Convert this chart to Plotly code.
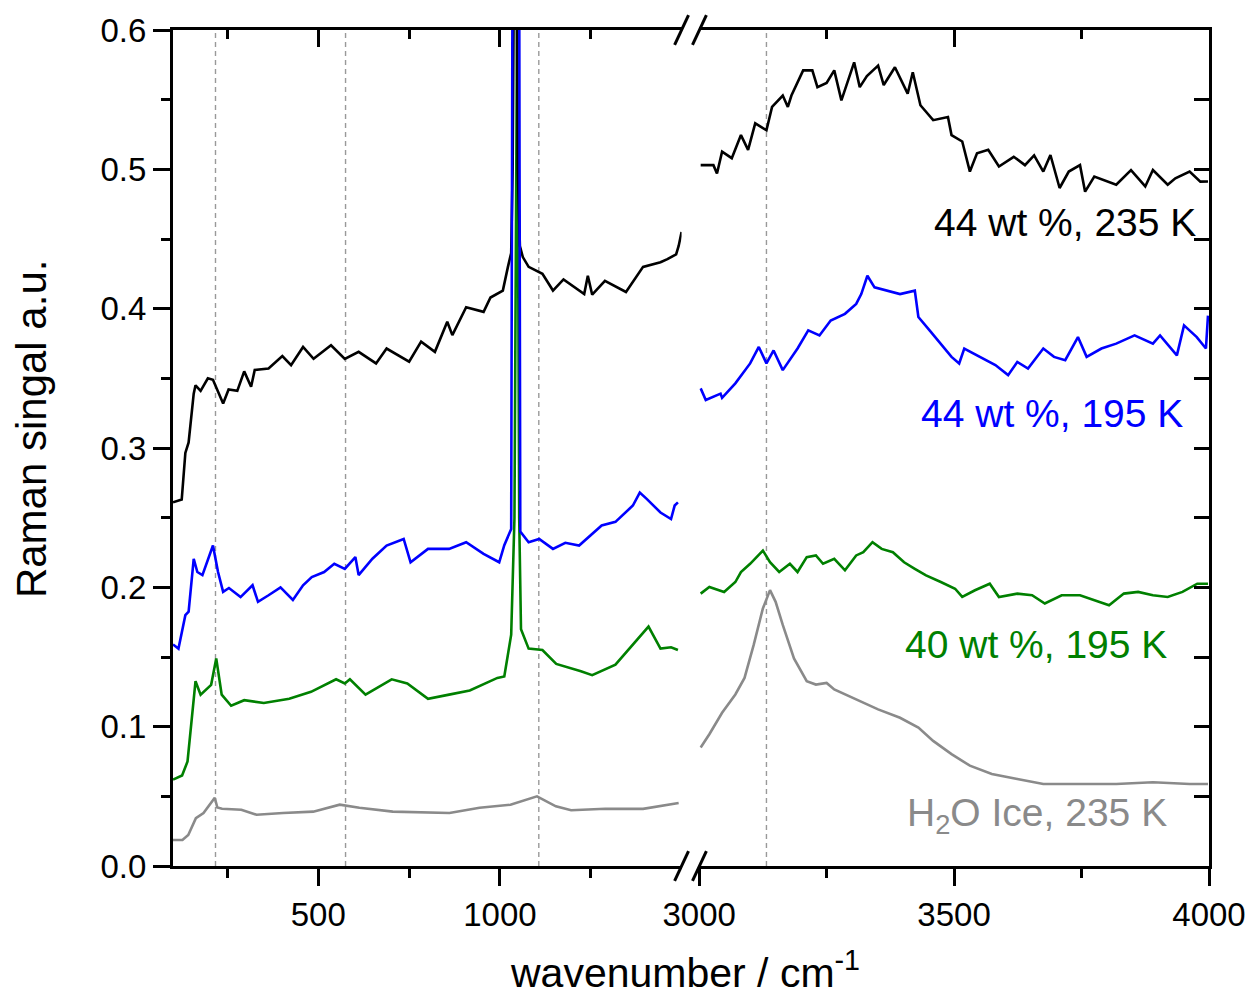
import plotly.graph_objects as go

# ---------------- data ----------------
# left panel (100-1500 cm-1)
black_l_x = [100, 124, 134, 143, 157, 162, 176, 196, 210, 238, 253, 277, 296, 315, 325, 363, 401, 425, 458, 487,
             535, 573, 611, 659, 688, 750, 783, 821, 855, 869, 907, 955, 974, 1008, 1022, 1031, 1035, 1038, 1042,
             1046, 1049, 1055, 1063, 1079, 1117, 1146, 1175, 1232, 1242, 1254, 1289, 1347, 1394, 1442, 1461, 1485,
             1492, 1500]
black_l_y = [.261, .263, .2965, .304, .339, .345, .341, .350, .349, .332, .342, .341, .355, .344, .356, .357, .366,
             .3595, .3725, .364, .3737, .364, .369, .3607, .3714, .362, .3763, .369, .3906, .381, .401, .3977, .408,
             .413, .43, .44, .50, .65, .80, .65, .50, .445, .437, .43, .425, .413, .421, .4105, .4236, .41, .42, .412,
             .43, .4333, .4355, .439, .445, .455]

blue_l_x = [100, 115, 134, 143, 157, 167, 181, 196, 210, 224, 238, 254, 286, 319, 334, 363, 396, 430, 458, 482, 516,
            544, 573, 602, 611, 649, 688, 735, 754, 802, 860, 907, 955, 998, 1012, 1031, 1034, 1036, 1045, 1052, 1054,
            1056, 1079, 1108, 1146, 1180, 1218, 1280, 1318, 1366, 1385, 1404, 1442, 1471, 1481, 1490]
blue_l_y = [.159, .156, .180, .1825, .2205, .211, .2088, .2205, .230, .211, .1967, .1995, .193, .2015, .1896, .1943,
            .20, .191, .2015, .2074, .211, .2169, .2133, .2217, .2088, .2205, .230, .2347, .218, .2276, .2276, .2324,
            .224, .218, .2302, .2418, .50, .80, .95, .80, .50, .24, .2324, .2347, .2276, .232, .23, .2444, .247,
            .2587, .268, .2635, .2537, .249, .2587, .261]

green_l_x = [100, 125, 140, 150, 162, 176, 205, 219, 234, 260, 296, 350, 420, 480, 549, 573, 587, 630, 702, 745,
             802, 860, 917, 993, 1012, 1031, 1040, 1044, 1047, 1050, 1053, 1058, 1079, 1117, 1155, 1223, 1254, 1318,
             1366, 1409, 1442, 1471, 1490]
green_l_y = [.062, .065, .075, .10, .1326, .123, .130, .149, .123, .115, .119, .117, .12, .125, .134, .131, .134,
             .123, .134, .131, .12, .123, .126, .135, .136, .166, .25, .45, .60, .45, .25, .17, .156, .155, .145,
             .1397, .137, .1445, .159, .1718, .156, .157, .155]

gray_l_x = [100, 126, 142, 163, 184, 205, 215, 222, 235, 288, 330, 403, 486, 559, 613, 705, 861, 944, 1029, 1102,
            1154, 1196, 1290, 1394, 1492]
gray_l_y = [.0187, .0187, .0223, .0343, .038, .046, .049, .042, .0411, .0404, .0368, .038, .039, .044, .0418, .039,
            .038, .0418, .044, .050, .0428, .040, .0411, .041, .0452]

# right panel (3000-4000 cm-1)
black_r_x = [3003, 3028, 3035, 3045, 3064, 3082, 3096, 3110, 3132, 3143, 3164, 3174, 3181, 3204, 3222, 3232, 3250,
             3265, 3279, 3304, 3315, 3329, 3351, 3362, 3384, 3409, 3419, 3434, 3459, 3488, 3495, 3516, 3531, 3545,
             3567, 3588, 3617, 3639, 3657, 3675, 3689, 3707, 3725, 3747, 3757, 3775, 3818, 3847, 3875, 3890, 3919,
             3934, 3962, 3983, 3998]
black_r_y = [.503, .503, .497, .5127, .508, .5246, .514, .533, .528, .5448, .553, .5448, .553, .571, .571, .559,
             .562, .571, .5495, .5768, .559, .567, .5745, .5605, .5733, .5543, .5697, .546, .5353, .5376, .5246,
             .520, .4984, .5115, .514, .502, .509, .503, .510, .4984, .5103, .4866, .4984, .503, .484, .4948, .489,
             .4995, .4877, .4995, .489, .4936, .4984, .4912, .4913]

blue_r_x = [3003, 3013, 3042, 3045, 3071, 3100, 3117, 3132, 3146, 3164, 3193, 3214, 3236, 3258, 3286, 3308, 3318,
            3330, 3344, 3369, 3394, 3423, 3430, 3452, 3474, 3495, 3510, 3520, 3581, 3606, 3624, 3645, 3675, 3696,
            3718, 3743, 3760, 3789, 3818, 3854, 3890, 3904, 3937, 3951, 3976, 3994, 3998]
blue_r_y = [.3428, .3345, .339, .336, .3464, .3607, .3725, .3607, .370, .3559, .3714, .3844, .3808, .3915, .3963,
            .4034, .4105, .4236, .4153, .4129, .4105, .4129, .394, .3844, .375, .3654, .3607, .3714, .3595, .3523,
            .3618, .357, .3714, .3654, .363, .3796, .3654, .3714, .3749, .3808, .3749, .3808, .3665, .388, .3796,
            .3714, .395]

green_r_x = [3003, 3020, 3049, 3071, 3082, 3100, 3125, 3139, 3157, 3178, 3193, 3211, 3229, 3243, 3265, 3286, 3308,
             3322, 3340, 3358, 3380, 3402, 3423, 3445, 3474, 3502, 3516, 3541, 3570, 3588, 3624, 3653, 3678, 3711,
             3747, 3775, 3804, 3833, 3861, 3890, 3919, 3948, 3977, 3998]
green_r_y = [.1955, .2003, .1967, .2038, .211, .2169, .2264, .218, .211, .2169, .211, .2217, .2229, .2169, .2205,
             .2122, .2229, .2252, .2324, .2276, .2252, .218, .2133, .2086, .2038, .199, .1931, .1979, .2026, .1931,
             .1955, .1943, .1884, .1943, .1943, .1907, .1872, .1955, .1967, .1943, .1931, .1967, .2026, .2026]

gray_r_x = [3003, 3020, 3045, 3071, 3089, 3107, 3125, 3139, 3150, 3164, 3186, 3211, 3229, 3250, 3265, 3308, 3351,
            3394, 3430, 3459, 3495, 3531, 3574, 3624, 3675, 3747, 3818, 3890, 3962, 3998]
gray_r_y = [.085, .0946, .110, .1231, .135, .1587, .1848, .198, .1896, .173, .149, .1326, .1302, .1314, .1267, .1195,
            .1124, .1064, .0993, .0898, .0803, .072, .066, .0625, .0589, .0589, .0589, .0601, .0589, .0589]

# reference peak positions (dashed lines)
ref_lines_left = [217, 575, 1107]
ref_lines_right = [3132]

# series labels
labels = ["44 wt %, 235 K", "44 wt %, 195 K", "40 wt %, 195 K", "H<sub>2</sub>O Ice, 235 K"]

# axis ticks
y_ticks = [0.0, 0.1, 0.2, 0.3, 0.4, 0.5, 0.6]
y_minor = [0.05, 0.15, 0.25, 0.35, 0.45, 0.55]
xl_ticks = [500, 1000]
xl_minor = [250, 750, 1250]
xr_ticks = [3000, 3500, 4000]
xr_minor = [3250, 3750]

# ---------------- styling ----------------
FONT = "Liberation Sans, Arial, sans-serif"
C_BLACK, C_BLUE, C_GREEN, C_GRAY = "#000000", "#0000ff", "#008000", "#8a8a8a"
W, H = 1258, 1000
ML, MR, MT, MB = 173, 42, 24, 134
PW, PH = W - ML - MR, H - MT - MB


def px(x):
    return (x - ML) / PW


def py(y):
    return (H - MB - y) / PH


LEFT_END = px(685)
RIGHT_START = px(702.7)

fig = go.Figure()

# (x, y, color, xaxis, yaxis) - traces spread over the overlay axes so that every axis is drawn
traces = [
    (gray_l_x, gray_l_y, C_GRAY, "x3", "y"),
    (green_l_x, green_l_y, C_GREEN, "x", "y"),
    (black_l_x, black_l_y, C_BLACK, "x", "y"),
    (blue_l_x, blue_l_y, C_BLUE, "x", "y"),
    (gray_r_x, gray_r_y, C_GRAY, "x4", "y"),
    (green_r_x, green_r_y, C_GREEN, "x2", "y2"),
    (black_r_x, black_r_y, C_BLACK, "x2", "y"),
    (blue_r_x, blue_r_y, C_BLUE, "x2", "y"),
]
for tx, ty, col, xa, ya in traces:
    fig.add_trace(go.Scatter(x=tx, y=ty, mode="lines", line=dict(color=col, width=2.6),
                             xaxis=xa, yaxis=ya, showlegend=False, hoverinfo="skip"))

TICKFONT = dict(family=FONT, size=33, color="black")
axis_common = dict(showline=True, linecolor="black", linewidth=3, showgrid=False, zeroline=False,
                   tickcolor="black", tickwidth=3, tickfont=TICKFONT)


def minor(vals, direction, length):
    return dict(tickmode="array", tickvals=vals, ticks=direction, ticklen=length,
                tickwidth=3, tickcolor="black", showgrid=False)


fig.update_layout(
    width=W, height=H, margin=dict(l=ML, r=MR, t=MT, b=MB),
    paper_bgcolor="white", plot_bgcolor="white", showlegend=False,
    font=dict(family=FONT, color="black"),
    xaxis=dict(domain=[0, LEFT_END], range=[100, 1500], anchor="y", ticks="outside", ticklen=17,
               tickmode="array", tickvals=xl_ticks, ticktext=[str(v) for v in xl_ticks],
               minor=minor(xl_minor, "outside", 9), **axis_common),
    xaxis2=dict(domain=[RIGHT_START, 1], range=[3000, 4000], anchor="y", ticks="outside", ticklen=17,
                tickmode="array", tickvals=xr_ticks, ticktext=[str(v) for v in xr_ticks],
                minor=minor(xr_minor, "outside", 9), **axis_common),
    xaxis3=dict(overlaying="x", side="top", anchor="y", range=[100, 1500], ticks="inside", ticklen=17,
                tickmode="array", tickvals=xl_ticks, showticklabels=False,
                minor=minor(xl_minor, "inside", 9), **axis_common),
    xaxis4=dict(overlaying="x2", side="top", anchor="y", range=[3000, 4000], ticks="inside", ticklen=17,
                tickmode="array", tickvals=xr_ticks, showticklabels=False,
                minor=minor(xr_minor, "inside", 9), **axis_common),
    yaxis=dict(domain=[0, 1], range=[0, 0.6], anchor="x", ticks="outside", ticklen=17,
               tickmode="array", tickvals=y_ticks, ticktext=[f"{v:.1f}" for v in y_ticks],
               minor=minor(y_minor, "outside", 9), **axis_common),
    yaxis2=dict(overlaying="y", side="right", anchor="x2", range=[0, 0.6], ticks="inside", ticklen=15,
                tickmode="array", tickvals=y_ticks, showticklabels=False,
                minor=minor(y_minor, "inside", 15), **axis_common),
)

# dashed reference lines
for v in ref_lines_left:
    fig.add_shape(type="line", xref="x", yref="paper", x0=v, x1=v, y0=0, y1=1, layer="below",
                  line=dict(color="#999999", width=1.4, dash="5px,4px"))
for v in ref_lines_right:
    fig.add_shape(type="line", xref="x2", yref="paper", x0=v, x1=v, y0=0, y1=1, layer="below",
                  line=dict(color="#999999", width=1.4, dash="5px,4px"))

# axis break marks
for cx in (685, 703):
    for cy in (H - MB, MT):
        fig.add_shape(type="line", xref="paper", yref="paper",
                      x0=px(cx - 7), y0=py(cy + 15), x1=px(cx + 7), y1=py(cy - 15),
                      line=dict(color="black", width=3))

# series labels
label_pos = [(3978, 0.462), (3952, 0.325), (3922, 0.159), (3922, 0.036)]
label_col = [C_BLACK, C_BLUE, C_GREEN, C_GRAY]
for txt, (lxp, lyp), col in zip(labels, label_pos, label_col):
    fig.add_annotation(text=txt, x=lxp, y=lyp, xref="x2", yref="y", xanchor="right", yanchor="middle",
                       showarrow=False, font=dict(family=FONT, size=39, color=col))

# axis titles
fig.add_annotation(text="Raman singal a.u.", x=px(30), y=py(425), xref="paper", yref="paper",
                   textangle=-90, showarrow=False, xanchor="center", yanchor="middle",
                   font=dict(family=FONT, size=42, color="black"))
fig.add_annotation(text="wavenumber / cm<sup>-1</sup>", x=px(688), y=py(971), xref="paper", yref="paper",
                   showarrow=False, xanchor="center", yanchor="middle",
                   font=dict(family=FONT, size=41, color="black"))

fig.write_html("out.html")
